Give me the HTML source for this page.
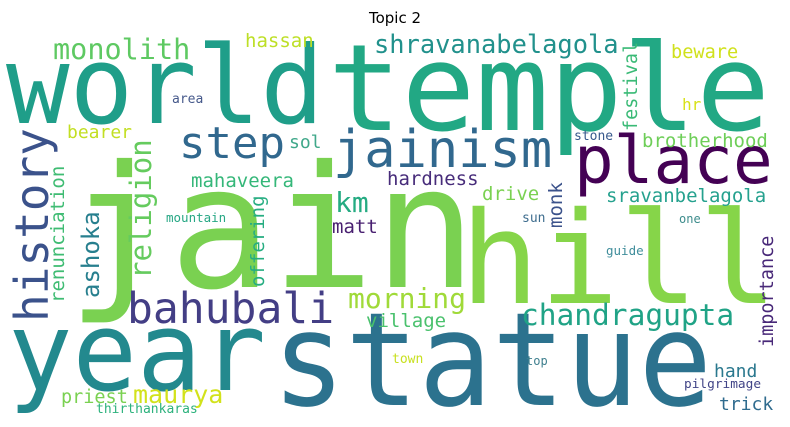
<!DOCTYPE html>
<html><head><meta charset="utf-8"><style>
html,body{margin:0;padding:0;background:#fff;width:790px;height:427px;overflow:hidden}
svg{display:block}
text{font-family:"DejaVu Sans Mono","Liberation Mono",monospace}
</style></head><body>
<svg id="cloud" width="790" height="427" viewBox="0 0 790 427" xmlns="http://www.w3.org/2000/svg">
<text x="395" y="23" text-anchor="middle" font-size="15" fill="#000" style="font-family:'DejaVu Sans','Liberation Sans',sans-serif">Topic 2</text>
<g id="words"></g>
</svg>
<script>
const words = ["world","temple","jain","hill","year","statue","place","jainism","step","history","monolith","hassan","shravanabelagola","beware","festival","hr","area","bearer","sol","mahaveera","km","hardness","matt","mountain","religion","ashoka","renunciation","offering","bahubali","morning","village","town","priest","maurya","thirthankaras","drive","monk","sun","stone","brotherhood","sravanbelagola","one","guide","importance","chandragupta","hand","pilgrimage","trick","top"];
const fontSizes = [108,120,170,128,110,130,66,52,44,46,28.5,19,25.4,18.6,18.5,16,13,18,18,19,28,19,19,12.5,29,24,19,19,43,28,19,13,18.5,25,13,19,19,13,13,19,19,12,12.5,18.5,29.5,18,12.8,18,12];
const colors = ["#1f9e89","#22a884","#7ad151","#86d549","#23898e","#2c728e","#440154","#31688e","#31688e","#3b528b","#5ec962","#bddf26","#21918c","#d0e11c","#3aba76","#d8e219","#46598b","#c2df23","#40a88a","#35b779","#25ab82","#472c7a","#481f70","#26a784","#65cb5e","#277f8e","#3fbc73","#26ad81","#433e85","#a0da39","#4ac16d","#c8e020","#7ad151","#d2e21b","#2db27d","#7ad151","#3b528b","#3e6d8e","#38598c","#6ece58","#25a18e","#3d8c8c","#3f8d9b","#482878","#20a386","#2a788e","#414487","#2f6b8e","#3e7f8e"];
// layout: [x, baseline y, rotated, fitted width (0 = natural)]
const layout = [[6,123,0,318],[328,130,0,442],[67,287,0,0],[460,303,0,318],[8,390,0,258],[272,405,0,440],[574,183,0,0],[333,167,0,0],[179,158,0,0],[48,322,1,0],[53,59,0,0],[245,47,0,0],[374,53,0,0],[671,58,0,0],[637,131,1,0],[682,110,0,0],[172,103,0,0],[67,138,0,0],[289,148,0,0],[191,187,0,0],[335,212,0,0],[387,185,0,0],[332,233,0,0],[166,222,0,0],[151,279,1,0],[99,298,1,0],[64,303,1,0],[264,287,1,0],[127,323,0,0],[348,308,0,0],[366,327,0,0],[392,363,0,0],[61,403,0,0],[133,403,0,0],[96,413,0,0],[482,200,0,0],[562,228,1,0],[522,222,0,0],[574,140,0,0],[642,147,0,0],[606,202,0,0],[679,223,0,0],[606,255,0,0],[773,347,1,0],[521,325,0,0],[714,377,0,0],[684,388,0,0],[719,410,0,0],[526,365,0,0]];
const g = document.getElementById('words');
const NS = 'http://www.w3.org/2000/svg';
for (let i = 0; i < words.length; i++) {
  const t = document.createElementNS(NS, 'text');
  const p = layout[i];
  t.setAttribute('font-size', fontSizes[i]);
  t.setAttribute('fill', colors[i]);
  if (p[2]) {
    t.setAttribute('transform', 'translate(' + p[0] + ',' + p[1] + ') rotate(-90)');
  } else {
    t.setAttribute('x', p[0]);
    t.setAttribute('y', p[1]);
  }
  if (p[3]) {
    t.setAttribute('textLength', p[3]);
    t.setAttribute('lengthAdjust', 'spacingAndGlyphs');
  }
  t.textContent = words[i];
  
  
  g.appendChild(t);
}
</script>
</body></html>
